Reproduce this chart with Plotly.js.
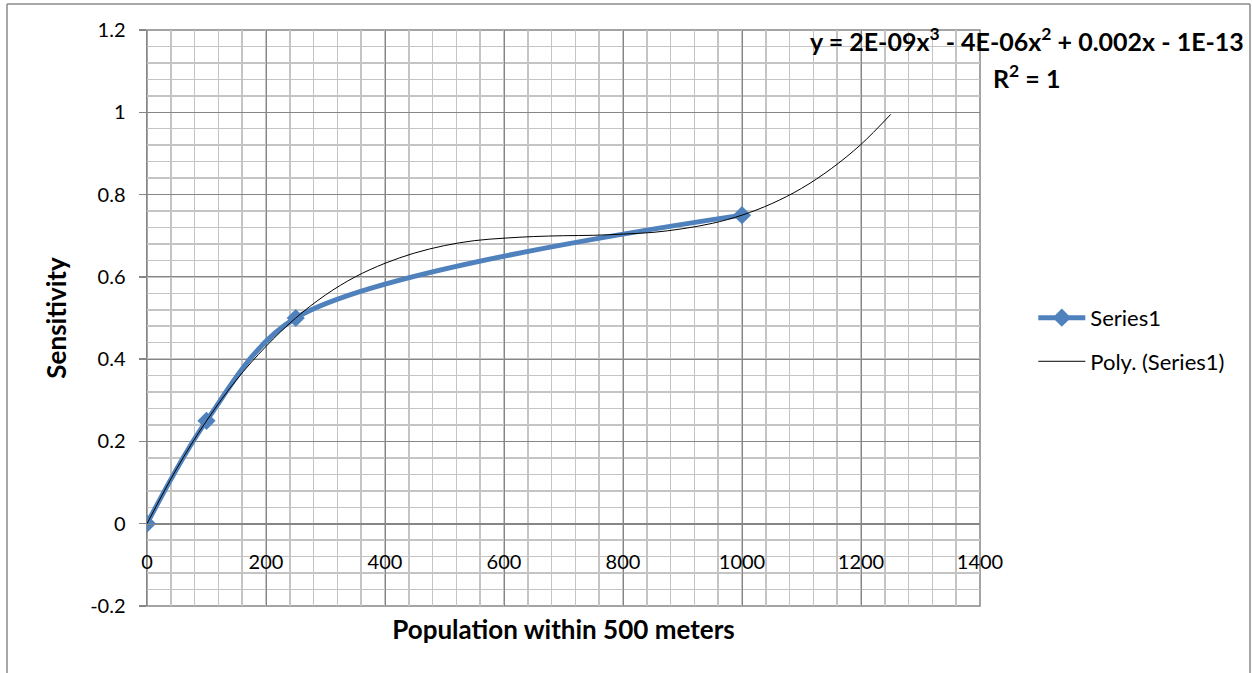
<!DOCTYPE html>
<html>
<head>
<meta charset="utf-8">
<script src="https://cdn.plot.ly/plotly-3.0.1.min.js"></script>
<style>
  html, body { margin: 0; padding: 0; background: #ffffff; }
  #chart { width: 1252px; height: 673px; }
</style>
</head>
<body>
<div id="chart"></div>
<script>
// Series data
const population = [0, 100, 250, 1000];
const sensitivity = [0, 0.25, 0.5, 0.75];

// Polynomial trendline as drawn
const trendX = [0, 50, 100, 150, 200, 250, 300, 350, 400, 450, 500, 550, 600, 650,
                700, 750, 800, 850, 900, 950, 1000, 1050, 1100, 1150, 1200, 1250];
const trendY = [0, 0.134, 0.25, 0.349, 0.431, 0.5, 0.556, 0.6, 0.633, 0.658, 0.676, 0.688,
                0.694, 0.698, 0.7, 0.701, 0.704, 0.708, 0.717, 0.73, 0.75, 0.778, 0.815,
                0.863, 0.922, 0.995];

const xTicks = [0, 200, 400, 600, 800, 1000, 1200, 1400];
const yTicks = [-0.2, 0, 0.2, 0.4, 0.6, 0.8, 1, 1.2];
const yTickText = ['-0.2', '0', '0.2', '0.4', '0.6', '0.8', '1', '1.2'];

const seriesName = 'Series1';
const trendName = 'Poly. (Series1)';
const xTitle = 'Population within 500 meters';
const yTitle = 'Sensitivity';
const equationText = 'y = 2E-09x<sup>3</sup> - 4E-06x<sup>2</sup> + 0.002x - 1E-13';
const r2Text = 'R<sup>2</sup> = 1';

const FONT = 'Lato, "Open Sans", sans-serif';
const MAJOR = '#868686';
const MINOR = '#c4c4c4';

const traces = [
  {
    x: population, y: sensitivity, name: seriesName, type: 'scatter', mode: 'lines+markers',
    line: { color: '#4f81bd', width: 5, shape: 'spline', smoothing: 0.9 },
    marker: { symbol: 'diamond', size: 14, color: '#4f81bd' },
    legendgroup: 'a'
  },
  {
    x: trendX, y: trendY, name: trendName, type: 'scatter', mode: 'lines',
    line: { color: '#000000', width: 1, shape: 'spline' },
    legendgroup: 'b'
  }
];

const layout = {
  width: 1252, height: 673,
  paper_bgcolor: '#ffffff', plot_bgcolor: '#ffffff',
  margin: { l: 147, r: 272, t: 30, b: 67 },
  font: { family: FONT, color: '#000000', size: 20 },
  showlegend: true,
  legend: {
    x: 1.064, xanchor: 'left', y: 0.462, yanchor: 'middle',
    font: { family: FONT, size: 22, color: '#000000' },
    tracegroupgap: 12, traceorder: 'grouped', itemwidth: 47,
    bgcolor: 'rgba(0,0,0,0)'
  },
  xaxis: {
    range: [0, 1400], tickvals: xTicks, ticktext: xTicks.map(String),
    anchor: 'free', position: 0.2 / 1.4,
    showgrid: true, gridcolor: MAJOR, gridwidth: 1,
    minor: { dtick: 40, tick0: 0, showgrid: true, gridcolor: MINOR, gridwidth: 1.5 },
    zeroline: false, showline: true, linecolor: MAJOR, linewidth: 1,
    ticks: '', ticklabelstandoff: 20,
    tickfont: { family: FONT, size: 20, color: '#000000' },
    title: { text: xTitle, standoff: 49, font: { family: FONT, size: 26, color: '#000000', weight: 'bold' } }
  },
  yaxis: {
    range: [-0.2, 1.2], tickvals: yTicks, ticktext: yTickText,
    showgrid: true, gridcolor: MAJOR, gridwidth: 1,
    minor: { dtick: 0.04, tick0: -0.2, showgrid: true, gridcolor: MINOR, gridwidth: 1.5 },
    zeroline: false, showline: true, linecolor: MAJOR, linewidth: 1.5,
    ticks: 'outside', ticklen: 7, tickcolor: MAJOR, tickwidth: 1.5,
    ticklabelstandoff: 9,
    tickfont: { family: FONT, size: 20, color: '#000000' },
    title: { text: yTitle, standoff: 16, font: { family: FONT, size: 26, color: '#000000', weight: 'bold' } }
  },
  shapes: [
    { type: 'rect', xref: 'paper', yref: 'paper', x0: 0, x1: 1, y0: 0, y1: 1,
      line: { color: MAJOR, width: 1.5 }, layer: 'below' },
    { type: 'line', xref: 'paper', yref: 'paper', x0: (7 - 147) / 833, x1: (7 - 147) / 833,
      y0: (606 - 4) / 576, y1: (606 - 690) / 576, line: { color: '#8a8a8a', width: 1.5 } },
    { type: 'line', xref: 'paper', yref: 'paper', x0: (1250 - 147) / 833, x1: (1250 - 147) / 833,
      y0: (606 - 4) / 576, y1: (606 - 690) / 576, line: { color: '#8a8a8a', width: 1.5 } },
    { type: 'line', xref: 'paper', yref: 'paper', x0: (7 - 147) / 833, x1: (1250 - 147) / 833,
      y0: (606 - 4) / 576, y1: (606 - 4) / 576, line: { color: '#8a8a8a', width: 1.5 } }
  ],
  annotations: [
    { xref: 'paper', yref: 'paper', x: (1027 - 147) / 833, y: (606 - 39) / 576,
      xanchor: 'center', yanchor: 'middle', showarrow: false, text: equationText,
      font: { family: FONT, size: 25, color: '#000000', weight: 'bold' } },
    { xref: 'paper', yref: 'paper', x: (1026 - 147) / 833, y: (606 - 76) / 576,
      xanchor: 'center', yanchor: 'middle', showarrow: false, text: r2Text,
      font: { family: FONT, size: 25, color: '#000000', weight: 'bold' } }
  ]
};

Plotly.newPlot('chart', traces, layout, { displayModeBar: false, staticPlot: true });
</script>
</body>
</html>
